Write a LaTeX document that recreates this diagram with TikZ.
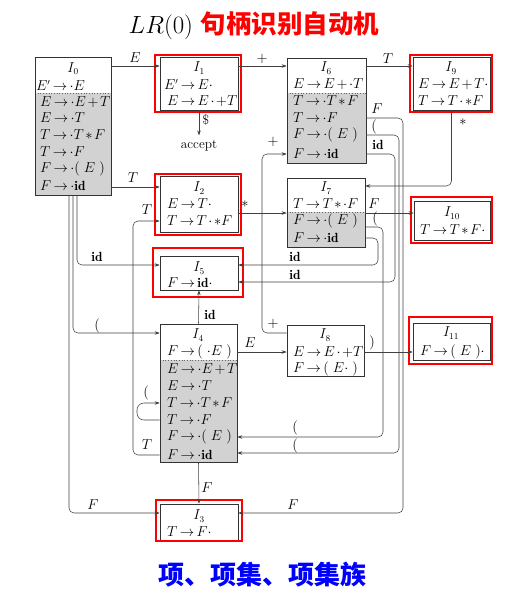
\documentclass[tikz,border=0pt]{standalone}
\usepackage{fontspec}
\newfontfamily\cjk{Noto Sans CJK SC}
\usetikzlibrary{arrows.meta}
\newcommand{\psp}{\mskip5mu}
\newcommand{\pE}{(\psp E\psp)}
\newcommand{\tightmath}{\thickmuskip=3mu plus 1mu\medmuskip=2mu plus 1mu}
\begin{document}
\begin{tikzpicture}[x=1pt,y=-1pt,
  box/.style={draw=black!80,line width=0.6pt,inner sep=0pt},
  redbox/.style={draw=red,line width=1.1pt},
  itm/.style={anchor=west,inner sep=0pt,font=\fontsize{13.3}{16}\selectfont\tightmath},
  ttl/.style={anchor=center,inner sep=0pt,font=\fontsize{13.3}{16}\selectfont},
  lab/.style={inner sep=0pt,font=\fontsize{13.3}{16}\selectfont},
  edge/.style={draw=black!75,line width=0.55pt,rounded corners=5pt,-{Stealth[length=5pt,width=3.5pt]}},
  shade/.style={fill=gray!35},
  divider/.style={draw=black!60,dotted,line width=0.7pt}]
\useasboundingbox (0,0) rectangle (530,595);
% title
\node[inner sep=0pt,font=\fontsize{25.5}{30}\selectfont] (title) at (254,26) {$LR(0)$\ {\cjk\bfseries\color{red}句柄识别自动机}};
\node[inner sep=0pt,font=\fontsize{26}{30}\selectfont] (sub) at (262,575) {\cjk\bfseries\color{blue}项、项集、项集族};
% shading
\fill[shade] (35,93) rectangle (111,195);
\fill[shade] (287,93) rectangle (366,163);
\fill[shade] (287,212) rectangle (365,247);
\fill[shade] (160,360) rectangle (237,462);
\draw[divider] (35,93) -- (111,93);
\draw[divider] (287,93) -- (366,93);
\draw[divider] (287,212) -- (365,212);
\draw[divider] (160,360) -- (237,360);
% boxes
\node[box,minimum width=76pt,minimum height=138pt] (I0) at (73,126) {};
\node[box,minimum width=78pt,minimum height=53pt] (I1) at (199,83.5) {};
\node[box,minimum width=79pt,minimum height=105pt] (I6) at (326.5,110.5) {};
\node[box,minimum width=77pt,minimum height=53pt] (I9) at (451.5,83.5) {};
\node[box,minimum width=78pt,minimum height=56pt] (I2) at (199,204) {};
\node[box,minimum width=78pt,minimum height=34pt] (I5) at (199,273) {};
\node[box,minimum width=78pt,minimum height=69pt] (I7) at (326,212.5) {};
\node[box,minimum width=76pt,minimum height=39pt] (I10) at (452,220.5) {};
\node[box,minimum width=77pt,minimum height=138pt] (I4) at (198.5,393) {};
\node[box,minimum width=77pt,minimum height=51pt] (I8) at (325.5,350.5) {};
\node[box,minimum width=77pt,minimum height=37pt] (I11) at (451.5,341.5) {};
\node[box,minimum width=78pt,minimum height=36pt] (I3) at (199,522) {};
% red frames
\draw[redbox] (155,55) rectangle (241,112);
\draw[redbox] (410,55) rectangle (492,112);
\draw[redbox] (155,174) rectangle (241,235);
\draw[redbox] (153,248) rectangle (243,297);
\draw[redbox] (411,197) rectangle (492,243);
\draw[redbox] (409,317) rectangle (492,364);
\draw[redbox] (156,500) rectangle (242,541);
% texts I0
\node[ttl] (I0t) at (73,68.5) {$I_0$};
\node[itm] (I0a) at (36,85.5) {$E'\to\cdot E$};
\node[itm] (I0b) at (40,102) {$E\to\cdot E+T$};
\node[itm] (I0c) at (40,118) {$E\to\cdot T$};
\node[itm] (I0d) at (40,135) {$T\to\cdot T*F$};
\node[itm] (I0e) at (40,152) {$T\to\cdot F$};
\node[itm] (I0f) at (40,169) {$F\to\cdot\pE$};
\node[itm] (I0g) at (40,186) {$F\to\cdot\mathbf{id}$};
% I1
\node[ttl] (I1t) at (199,68) {$I_1$};
\node[itm] (I1a) at (164,84.5) {$E'\to E\cdot$};
\node[itm] (I1b) at (167,101) {$E\to E\cdot +T$};
% I6
\node[ttl] (I6t) at (326,68) {$I_6$};
\node[itm] (I6a) at (293,84) {$E\to E+\cdot T$};
\node[itm] (I6b) at (293,101) {$T\to\cdot T*F$};
\node[itm] (I6c) at (293,118) {$T\to\cdot F$};
\node[itm] (I6d) at (293,135) {$F\to\cdot\pE$};
\node[itm] (I6e) at (293,154) {$F\to\cdot\mathbf{id}$};
% I9
\node[ttl] (I9t) at (451,68) {$I_9$};
\node[itm] (I9a) at (418,84) {$E\to E+T\cdot$};
\node[itm] (I9b) at (418,101) {$T\to T\cdot *F$};
% I2
\node[ttl] (I2t) at (199,188) {$I_2$};
\node[itm] (I2a) at (167,204) {$E\to T\cdot$};
\node[itm] (I2b) at (167,221) {$T\to T\cdot *F$};
% I5
\node[ttl] (I5t) at (199,268) {$I_5$};
\node[itm] (I5a) at (167,283) {$F\to\mathbf{id}\cdot$};
% I7
\node[ttl] (I7t) at (326,188) {$I_7$};
\node[itm] (I7a) at (293,204) {$T\to T*\cdot F$};
\node[itm] (I7b) at (293,221) {$F\to\cdot\pE$};
\node[itm] (I7c) at (293,238) {$F\to\cdot\mathbf{id}$};
% I10
\node[ttl] (I10t) at (452,213) {$I_{10}$};
\node[itm] (I10a) at (420,230) {$T\to T*F\cdot$};
% I4
\node[ttl] (I4t) at (198,335) {$I_4$};
\node[itm] (I4a) at (167,352) {$F\to(\psp\cdot E\psp)$};
\node[itm] (I4b) at (167,369) {$E\to\cdot E+T$};
\node[itm] (I4c) at (167,386) {$E\to\cdot T$};
\node[itm] (I4d) at (167,403) {$T\to\cdot T*F$};
\node[itm] (I4e) at (167,420) {$T\to\cdot F$};
\node[itm] (I4f) at (167,437) {$F\to\cdot\pE$};
\node[itm] (I4g) at (167,455) {$F\to\cdot\mathbf{id}$};
% I8
\node[ttl] (I8t) at (325,335) {$I_8$};
\node[itm] (I8a) at (293,352) {$E\to E\cdot +T$};
\node[itm] (I8b) at (293,369) {$F\to(\psp E\cdot\psp)$};
% I11
\node[ttl] (I11t) at (451,333) {$I_{11}$};
\node[itm] (I11a) at (420,352) {$F\to\pE\cdot$};
% I3
\node[ttl] (I3t) at (199,516) {$I_3$};
\node[itm] (I3a) at (167,532) {$T\to F\cdot$};
% accept
\node[lab] (acc) at (199,146) {accept};
% edges
\draw[edge] (I0.east|-0,66) -- (I1.west|-0,66);
\draw[edge] (I1.east|-0,66) -- (I6.west|-0,66);
\draw[edge] (I6.east|-0,66) -- (I9.west|-0,66);
\draw[edge,shorten >=5pt] (I1.south) -- (acc.north);
\draw[edge] (I0.east|-0,187) -- (I2.west|-0,187);
\draw[edge] (I9.south) |- (I7.east|-0,186);
\draw[edge] (I2.east|-0,213) -- (I7.west|-0,213);
\draw[edge] (I7.east|-0,213) -- (I10.west|-0,213);
\draw[edge] (I6.east|-0,118) -| (403,513) -- (I3.east|-0,513);
\draw[edge] (I6.east|-0,135) -| (399,453) -- (I4.east|-0,453);
\draw[edge] (I6.east|-0,154) -| (395,282) -- (I5.east|-0,282);
\draw[edge] (I7.east|-0,227) -| (383,437) -- (I4.east|-0,437);
\draw[edge] (I7.east|-0,238) -| (378,265) -- (I5.east|-0,265);
\draw[edge] (I4.east|-0,352) -- (I8.west|-0,352);
\draw[edge] (I8.east|-0,352) -- (I11.west|-0,352);
\draw[edge] (I8.west|-0,333) -| (262,154) -- (I6.west|-0,154);
\draw[edge] (I0.south-|77,0) |- (I5.west|-0,265);
\draw[edge] (I0.south-|73,0) |- (I4.west|-0,333);
\draw[edge] (I0.south-|69,0) |- (I3.west|-0,513);
\draw[edge] (I4.north) -- (I5.south);
\draw[edge] (I4.south) -- (I3.north);
\draw[edge,rounded corners=7pt] (I4.west|-0,420) -| (137,403) -- (I4.west|-0,403);
\draw[edge] (I4.west|-0,455) -| (133,221) -- (I2.west|-0,221);
% labels
\node[lab] (l1) at (135,58) {$E$};
\node[lab] (l2) at (262,59) {$+$};
\node[lab] (l3) at (388,59) {$T$};
\node[lab] (l4) at (206,120) {\$};
\node[lab] (l5) at (133,178) {$T$};
\node[lab] (l6) at (463,122) {$*$};
\node[lab] (l7) at (245,204) {$*$};
\node[lab] (l8) at (374,204) {$F$};
\node[lab] (l9) at (377,109) {$F$};
\node[lab] (l10) at (374,127) {$($};
\node[lab] (l11) at (378,145) {$\mathbf{id}$};
\node[lab] (l12) at (375,219) {$($};
\node[lab] (l13) at (295,257) {$\mathbf{id}$};
\node[lab] (l14) at (295,275) {$\mathbf{id}$};
\node[lab] (l15) at (295,428) {$($};
\node[lab] (l16) at (295,446) {$($};
\node[lab] (l17) at (250,343) {$E$};
\node[lab] (l18) at (372,343) {$)$};
\node[lab] (l19) at (273,142) {$+$};
\node[lab] (l20) at (273,324) {$+$};
\node[lab] (l21) at (97,257) {$\mathbf{id}$};
\node[lab] (l22) at (97,326) {$($};
\node[lab] (l23) at (93,505) {$F$};
\node[lab] (l24) at (293,505) {$F$};
\node[lab] (l25) at (210,315) {$\mathbf{id}$};
\node[lab] (l26) at (207,488) {$F$};
\node[lab] (l27) at (146,393) {$($};
\node[lab] (l28) at (147,210) {$T$};
\node[lab] (l29) at (147,445) {$T$};
\end{tikzpicture}
\end{document}
